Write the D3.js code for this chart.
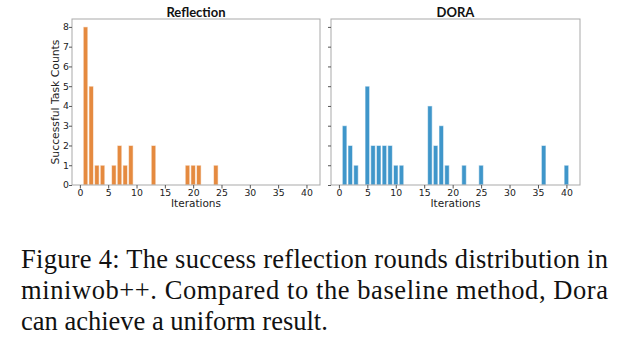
<!DOCTYPE html>
<html>
<head>
<meta charset="utf-8">
<script src="https://cdn.jsdelivr.net/npm/d3@7/dist/d3.min.js"></script>
<style>
  html, body { margin: 0; padding: 0; background: #fff; }
  svg { display: block; }
</style>
</head>
<body>
<svg id="fig" width="617" height="343"></svg>
<script>
// Successful task counts per iteration
const reflectionIters  = [1, 2, 3, 4, 6, 7, 8, 9, 13, 19, 20, 21, 24];
const reflectionCounts = [8, 5, 1, 1, 1, 2, 1, 2, 2, 1, 1, 1, 1];
const doraIters  = [1, 2, 3, 5, 6, 7, 8, 9, 10, 11, 16, 17, 18, 19, 22, 25, 36, 40];
const doraCounts = [3, 2, 1, 5, 2, 2, 2, 2, 1, 1, 4, 2, 3, 1, 1, 1, 2, 1];
const xTicks = [0, 5, 10, 15, 20, 25, 30, 35, 40];
const yTicks = [0, 1, 2, 3, 4, 5, 6, 7, 8];
const captionLines = [
  "Figure 4: The success reflection rounds distribution in",
  "miniwob++.  Compared to the baseline method, Dora",
  "can achieve a uniform result."
];

const svg = d3.select("#fig");
const plotTop = 19, plotBottom = 185;
const panels = [
  { title: "Reflection", iters: reflectionIters, counts: reflectionCounts, color: "#E58A3F", left: 72,  right: 320, yLabels: true },
  { title: "DORA",       iters: doraIters,       counts: doraCounts,       color: "#3F96CA", left: 331, right: 580, yLabels: false }
];

const tickFont = "'DejaVu Sans', sans-serif";
const barW = 0.8;

panels.forEach(p => {
  const x = d3.scaleLinear().domain([-1.39, 42.39]).range([p.left, p.right]);
  const y = d3.scaleLinear().domain([0, 8.4]).range([plotBottom, plotTop]);
  const g = svg.append("g");

  // bars
  g.selectAll("rect.bar").data(p.iters.map((it, i) => ({ it, c: p.counts[i] })))
    .enter().append("rect")
    .attr("class", "bar")
    .attr("x", d => x(d.it - barW / 2))
    .attr("width", d => x(d.it + barW / 2) - x(d.it - barW / 2))
    .attr("y", d => y(d.c))
    .attr("height", d => y(0) - y(d.c))
    .attr("fill", p.color)
    .attr("stroke", "rgba(255,255,255,0.55)")
    .attr("stroke-width", 1);

  // frame
  g.append("rect")
    .attr("x", p.left).attr("y", plotTop)
    .attr("width", p.right - p.left).attr("height", plotBottom - plotTop)
    .attr("fill", "none").attr("stroke", "#a9a9a9").attr("stroke-width", 1);

  // x axis
  const xAxis = d3.axisBottom(x).tickValues(xTicks).tickSize(3.5).tickPadding(0.5);
  const xa = g.append("g").attr("transform", `translate(0,${plotBottom})`).call(xAxis);
  xa.select(".domain").remove();
  xa.selectAll(".tick line").attr("stroke", "#555");
  xa.selectAll(".tick text").attr("font-family", tickFont).attr("font-size", 9.3).attr("fill", "#222");

  // y axis
  const yAxis = d3.axisLeft(y).tickValues(yTicks).tickSize(3).tickPadding(0)
    .tickFormat(p.yLabels ? d3.format("d") : () => "");
  const ya = g.append("g").attr("transform", `translate(${p.left},0)`).call(yAxis);
  ya.select(".domain").remove();
  ya.selectAll(".tick line").attr("stroke", "#555");
  ya.selectAll(".tick text").attr("font-family", tickFont).attr("font-size", 9.3).attr("fill", "#222");

  const cx = (p.left + p.right) / 2;
  g.append("text")
    .attr("x", cx).attr("y", 17)
    .attr("text-anchor", "middle")
    .attr("font-family", "Lato, sans-serif")
    .attr("font-weight", "bold")
    .attr("font-size", 13)
    .attr("fill", "#111")
    .text(p.title);

  g.append("text")
    .attr("x", cx).attr("y", 207)
    .attr("text-anchor", "middle")
    .attr("font-family", tickFont)
    .attr("font-size", 10.5)
    .attr("fill", "#222")
    .text("Iterations");

  if (p.yLabels) {
    g.append("text")
      .attr("transform", `translate(58.5,${(plotTop + plotBottom) / 2}) rotate(-90)`)
      .attr("text-anchor", "middle")
      .attr("font-family", tickFont)
      .attr("font-size", 10.8)
      .attr("fill", "#222")
      .text("Successful Task Counts");
  }
});

// caption
const capX = 21, capW = 587, baselines = [268, 299, 330];
captionLines.forEach((line, i) => {
  const t = svg.append("text")
    .attr("x", capX).attr("y", baselines[i])
    .attr("font-family", "'Liberation Serif', serif")
    .attr("font-size", 26.5)
    .attr("fill", "#111")
    .text(line);
  if (i < 2) t.attr("textLength", capW).attr("lengthAdjust", "spacing");
});
</script>
</body>
</html>
